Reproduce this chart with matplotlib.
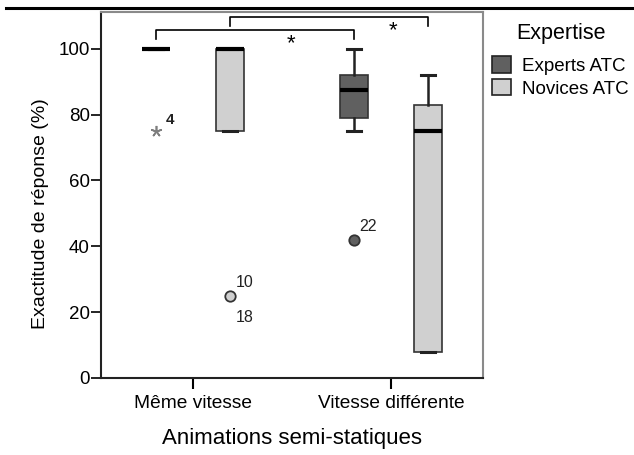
import matplotlib
matplotlib.use("Agg")
import matplotlib.pyplot as plt
from matplotlib.lines import Line2D
from matplotlib.patches import Patch

plt.rcParams['font.family'] = ['Liberation Sans', 'DejaVu Sans']

# data
categories = ['Même vitesse', 'Vitesse différente']
groups = ['Experts ATC', 'Novices ATC']
colors = ['#606060', '#d0d0d0']

# box stats per group, per category: whislo, q1, med, q3, whishi
experts_stats = [(100, 100, 100, 100, 100), (75, 79, 87.5, 92, 100)]
novices_stats = [(75, 75, 100, 100, 100), (8, 8, 75, 83, 92)]

# outliers: (category index, value, labels, marker)
experts_out = [(0, 75, ['4'], 'star'), (1, 42, ['22'], 'circle')]
novices_out = [(0, 25, ['10', '18'], 'circle')]

offset = 0.187
width = 0.146

fig = plt.figure(figsize=(6.34, 4.55), dpi=100)
ax = fig.add_axes([101 / 634, 77 / 455, 382 / 634, 365.5 / 455])

for g, (stats, outs) in enumerate([(experts_stats, experts_out), (novices_stats, novices_out)]):
    sign = -1 if g == 0 else 1
    bstats = []
    for s in stats:
        bstats.append(dict(whislo=s[0], q1=s[1], med=s[2], q3=s[3], whishi=s[4], fliers=[]))
    pos = [i + sign * offset for i in range(len(categories))]
    ax.bxp(bstats, positions=pos, widths=width, patch_artist=True, showfliers=False,
           boxprops=dict(facecolor=colors[g], edgecolor='#333333', linewidth=1.2),
           medianprops=dict(color='black', linewidth=3, solid_capstyle='butt'),
           whiskerprops=dict(color='#222222', linewidth=1.8),
           capprops=dict(color='#222222', linewidth=2.2), capwidths=width / 2)
    for ci, val, labels, kind in outs:
        x = ci + sign * offset
        if kind == 'star':
            ax.plot(x, val, marker=(5, 2, 0), markersize=8, color='#7f7f7f',
                    markeredgewidth=1.2, zorder=5)
            ax.annotate(labels[0], (x, val), xytext=(7, 5), textcoords='offset points',
                        fontsize=11, fontweight='bold', color='#222222')
        else:
            ax.plot(x, val, marker='o', markersize=7.5, markerfacecolor=colors[g],
                    markeredgecolor='#333333', markeredgewidth=1.3, zorder=5)
            ax.annotate(labels[0], (x, val), xytext=(4, 6), textcoords='offset points',
                        fontsize=11.5, color='#222222')
            if len(labels) > 1:
                ax.annotate(labels[1], (x, val), xytext=(4, -19), textcoords='offset points',
                            fontsize=11.5, color='#222222')

# significance brackets
brackets = [(-offset, 1 - offset, 105.6, 103.0, 0.495), (offset, 1 + offset, 109.5, 107.0, 1.01)]
for x0, x1, ytop, ybot, xs in brackets:
    ax.plot([x0, x0, x1, x1], [ybot, ytop, ytop, ybot], color='black', linewidth=1.2,
            clip_on=False)
    ax.text(xs, ybot - 4.6, '*', ha='center', va='bottom', fontsize=16, color='black')

ax.set_xlim(-0.465, 1.465)
ax.set_ylim(0, 111)
ax.set_xticks(range(len(categories)))
ax.set_xticklabels(categories, fontsize=13.8)
ax.set_yticks([0, 20, 40, 60, 80, 100])
ax.tick_params(axis='y', labelsize=13.5, length=7, width=1.2, pad=1)
ax.tick_params(axis='x', length=8, width=1.5, pad=4)
ax.set_xlabel('Animations semi-statiques', fontsize=16, labelpad=12)
ax.set_ylabel('Exactitude de réponse (%)', fontsize=14)
ax.yaxis.set_label_coords(-0.135, 0.45)

for side in ['left', 'bottom']:
    ax.spines[side].set_linewidth(1.5)
    ax.spines[side].set_color('#222222')
for side in ['top', 'right']:
    ax.spines[side].set_linewidth(1.5)
    ax.spines[side].set_color('#8a8a8a')

handles = [Patch(facecolor=c, edgecolor='#222222', linewidth=1.2) for c in colors]
fig.legend(handles, groups, loc='upper left',
           bbox_to_anchor=(479 / 634, 1 - 43 / 455), frameon=False, fontsize=13.5,
           handlelength=1.0, handleheight=1.0, labelspacing=0.2,
           handletextpad=0.6, borderpad=0.2)
fig.text(561 / 634, 1 - 33 / 455, 'Expertise', ha='center', va='center', fontsize=15.5)

fig.add_artist(Line2D([6 / 634, 1], [1 - 8 / 455, 1 - 8 / 455], color='black', linewidth=2.2))

fig.savefig('out.png', dpi=100)
